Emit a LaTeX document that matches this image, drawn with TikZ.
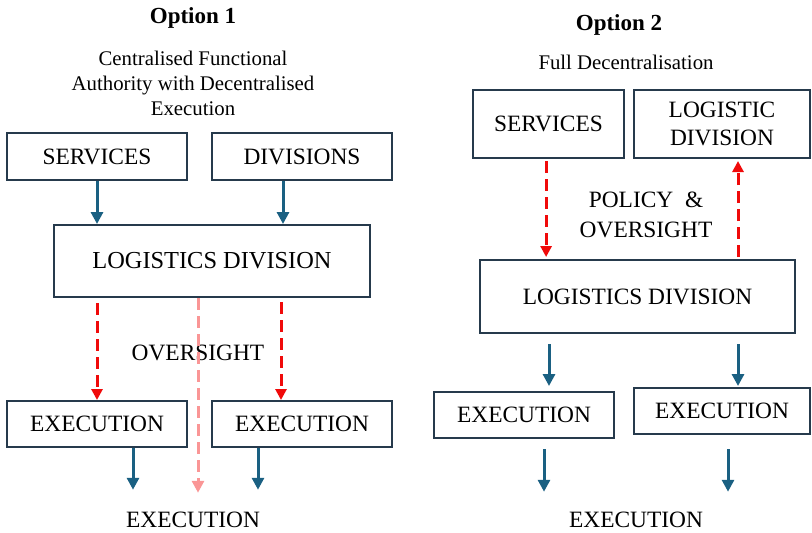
\documentclass[tikz,border=0pt]{standalone}
\usepackage{fontspec}
\setmainfont{Liberation Serif}
\usepackage{tikz}
\usetikzlibrary{arrows.meta, positioning, calc}
\usepackage{xcolor}
\definecolor{boxline}{RGB}{38,58,76}
\definecolor{flowblue}{RGB}{26,96,130}
\definecolor{ovred}{RGB}{240,10,10}
\definecolor{ovpink}{RGB}{250,150,150}

\begin{document}
\begin{tikzpicture}[x=0.5pt, y=-0.5pt,
  unit/.style={draw=boxline, line width=1pt, fill=white, inner sep=0pt, align=center,
    font=\fontsize{11.7}{14}\selectfont},
  caption/.style={inner sep=0pt, align=center, font=\fontsize{10.4}{12.5}\selectfont},
  heading/.style={inner sep=0pt, font=\fontsize{11.5}{14}\selectfont\bfseries},
  plain/.style={inner sep=0pt, align=center, font=\fontsize{11.7}{15}\selectfont},
  solidflow/.style={flowblue, line width=1.5pt, -{Triangle[width=6pt, length=6pt]}},
  dashflow/.style={ovred, line width=1.5pt, dash pattern=on 6pt off 3pt,
    -{Triangle[width=5.5pt, length=5.5pt]}},
  paleflow/.style={ovpink, line width=1.5pt, dash pattern=on 6pt off 3pt,
    -{Triangle[width=6pt, length=6pt]}}]
  \useasboundingbox (0,0) rectangle (812,532);

  % Option 1: central authority, execution pushed down
  \node[heading] (opt1) at (193,18) {Option 1};
  \node[caption] (sub1) at (193,83) {Centralised Functional\\Authority with Decentralised\\Execution};
  \node[unit, minimum width=90pt, minimum height=23.5pt] (srv1) at (97,156.5) {SERVICES};
  \node[unit, minimum width=90pt, minimum height=23.5pt] (div1) at (302,156.5) {DIVISIONS};
  \node[unit, minimum width=158pt, minimum height=36pt, font=\fontsize{12.2}{15}\selectfont] (log1) at (212,261) {LOGISTICS DIVISION};
  \node[unit, minimum width=90pt, minimum height=23pt] (exe1a) at (97,424) {EXECUTION};
  \node[unit, minimum width=90pt, minimum height=23pt] (exe1b) at (302,424) {EXECUTION};
  \node[plain] (ovs1) at (198,353) {OVERSIGHT};
  \node[plain] (exe1) at (193,520) {EXECUTION};

  \draw[solidflow] (srv1.south) -- (srv1.south |- log1.north);
  \draw[solidflow] ([xshift=-9.5pt]div1.south) -- ([xshift=-9.5pt]div1.south |- log1.north);
  \draw[dashflow, shorten <=2.5pt] (log1.south -| exe1a) -- (exe1a.north);
  \draw[dashflow, shorten <=2pt] ([xshift=-10.5pt]exe1b.north |- log1.south) -- ([xshift=-10.5pt]exe1b.north);
  \draw[paleflow, shorten >=9.5pt] ([xshift=-7pt]log1.south) -- ([xshift=-7pt]log1.south |- exe1.north);
  \draw[solidflow, shorten >=11pt] ([xshift=18pt]exe1a.south) -- ([xshift=18pt]exe1a.south |- exe1.north);
  \draw[solidflow, shorten >=11pt] ([xshift=-22pt]exe1b.south) -- ([xshift=-22pt]exe1b.south |- exe1.north);

  % Option 2: everything decentralised
  \node[heading] (opt2) at (619,25) {Option 2};
  \node[caption] (sub2) at (626,62) {Full Decentralisation};
  \node[unit, minimum width=75.5pt, minimum height=34pt] (srv2) at (548.5,124) {SERVICES};
  \node[unit, minimum width=88pt, minimum height=34pt] (ldv2) at (722,124) {LOGISTIC\\DIVISION};
  \node[plain] (pol2) at (646,215) {POLICY \ \&\\OVERSIGHT};
  \node[unit, minimum width=157.5pt, minimum height=36.5pt] (log2) at (637.5,296.5) {LOGISTICS DIVISION};
  \node[unit, minimum width=90pt, minimum height=23pt] (exe2a) at (524,415) {EXECUTION};
  \node[unit, minimum width=88pt, minimum height=23pt] (exe2b) at (722,411) {EXECUTION};
  \node[plain] (exe2) at (636,520) {EXECUTION};

  \draw[dashflow, shorten <=1pt, shorten >=1pt] ([xshift=-1.2pt]srv2.south) -- ([xshift=-1.2pt]srv2.south |- log2.north);
  \draw[dashflow, shorten <=1pt, shorten >=1pt] ([xshift=8pt]ldv2.south |- log2.north) -- ([xshift=8pt]ldv2.south);
  \draw[solidflow, shorten <=5pt, shorten >=2.5pt] ([xshift=12.5pt]exe2a.north |- log2.south) -- ([xshift=12.5pt]exe2a.north);
  \draw[solidflow, shorten <=5pt, shorten >=0.5pt] ([xshift=8pt]exe2b.north |- log2.south) -- ([xshift=8pt]exe2b.north);
  \draw[solidflow, shorten <=5pt, shorten >=10pt] ([xshift=10pt]exe2a.south) -- ([xshift=10pt]exe2a.south |- exe2.north);
  \draw[solidflow, shorten <=7pt, shorten >=10pt] ([xshift=3pt]exe2b.south) -- ([xshift=3pt]exe2b.south |- exe2.north);
\end{tikzpicture}
\end{document}
